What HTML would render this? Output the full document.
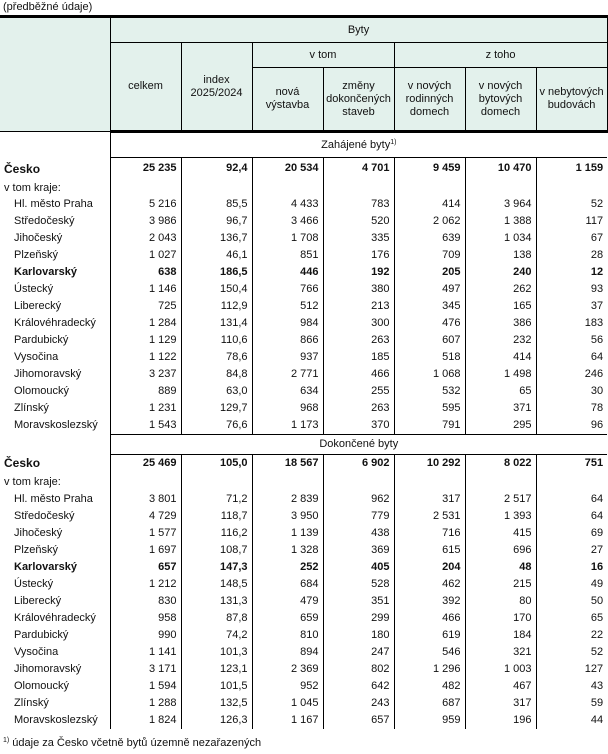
<!DOCTYPE html>
<html><head><meta charset="utf-8">
<style>
body{margin:0;background:#fff;width:608px;height:754px;overflow:hidden;font-family:"Liberation Sans",Arial,sans-serif;font-size:11px;color:#111;position:relative}
.cap{position:absolute;left:3px;top:1px;font-size:11px}
table{position:absolute;left:0;top:15px;border-collapse:collapse;table-layout:fixed;width:607px}
td{padding:0;overflow:hidden;white-space:nowrap;line-height:13px}
.h td{background:#e3f1ec;border:1px solid #000;text-align:center}
.h td.l{border-left:none}
tr.top td{border-top:3px solid #000}
tr.sub td{border-bottom:3px solid #000;white-space:normal}
.sec td.s{border-left:1px solid #000;border-bottom:1px solid #000;text-align:center}
.d td{text-align:right;padding-right:4px;border-left:1px solid #000}
.d td:first-child{text-align:left;border-left:none;padding-left:14px;padding-right:0}
.d td.k{padding-left:4px}
.b td{font-weight:bold}
.c td:first-child{padding-left:4px;font-size:12px}
tr.r td{line-height:17px;height:17px}
sup{font-size:7px;vertical-align:0;position:relative;top:-4px;line-height:0}
.fn{position:absolute;left:3px;top:737px;font-size:11px}
</style></head><body>
<div class="cap">(předběžné údaje)</div>
<table>
<colgroup><col style="width:110px"><col style="width:71px"><col style="width:71px"><col style="width:71px"><col style="width:71px"><col style="width:71px"><col style="width:71px"><col style="width:71px"></colgroup>
<tr class="h top"><td class="l" rowspan="3"></td><td colspan="7" style="line-height:24px">Byty</td></tr>
<tr class="h"><td rowspan="2" style="border-bottom:3px solid #000">celkem</td><td rowspan="2" style="border-bottom:3px solid #000">index<br>2025/2024</td><td colspan="2" style="line-height:24px">v tom</td><td colspan="3" style="line-height:24px">z toho</td></tr>
<tr class="h sub" style="height:64px"><td>nová<br>výstavba</td><td>změny<br>dokončených<br>staveb</td><td>v nových<br>rodinných<br>domech</td><td>v nových<br>bytových<br>domech</td><td>v nebytových<br>budovách</td></tr>
<tr class="sec"><td></td><td class="s" colspan="7" style="line-height:24px">Zahájené byty<sup>1)</sup></td></tr>
<tr class="d b c"><td style="line-height:22px">Česko</td><td>25 235</td><td>92,4</td><td>20 534</td><td>4 701</td><td>9 459</td><td>10 470</td><td>1 159</td></tr>
<tr class="d"><td class="k" style="line-height:16px">v tom kraje:</td><td></td><td></td><td></td><td></td><td></td><td></td><td></td></tr>
<tr class="d r"><td>Hl. město Praha</td><td>5 216</td><td>85,5</td><td>4 433</td><td>783</td><td>414</td><td>3 964</td><td>52</td></tr>
<tr class="d r"><td>Středočeský</td><td>3 986</td><td>96,7</td><td>3 466</td><td>520</td><td>2 062</td><td>1 388</td><td>117</td></tr>
<tr class="d r"><td>Jihočeský</td><td>2 043</td><td>136,7</td><td>1 708</td><td>335</td><td>639</td><td>1 034</td><td>67</td></tr>
<tr class="d r"><td>Plzeňský</td><td>1 027</td><td>46,1</td><td>851</td><td>176</td><td>709</td><td>138</td><td>28</td></tr>
<tr class="d r b"><td>Karlovarský</td><td>638</td><td>186,5</td><td>446</td><td>192</td><td>205</td><td>240</td><td>12</td></tr>
<tr class="d r"><td>Ústecký</td><td>1 146</td><td>150,4</td><td>766</td><td>380</td><td>497</td><td>262</td><td>93</td></tr>
<tr class="d r"><td>Liberecký</td><td>725</td><td>112,9</td><td>512</td><td>213</td><td>345</td><td>165</td><td>37</td></tr>
<tr class="d r"><td>Královéhradecký</td><td>1 284</td><td>131,4</td><td>984</td><td>300</td><td>476</td><td>386</td><td>183</td></tr>
<tr class="d r"><td>Pardubický</td><td>1 129</td><td>110,6</td><td>866</td><td>263</td><td>607</td><td>232</td><td>56</td></tr>
<tr class="d r"><td>Vysočina</td><td>1 122</td><td>78,6</td><td>937</td><td>185</td><td>518</td><td>414</td><td>64</td></tr>
<tr class="d r"><td>Jihomoravský</td><td>3 237</td><td>84,8</td><td>2 771</td><td>466</td><td>1 068</td><td>1 498</td><td>246</td></tr>
<tr class="d r"><td>Olomoucký</td><td>889</td><td>63,0</td><td>634</td><td>255</td><td>532</td><td>65</td><td>30</td></tr>
<tr class="d r"><td>Zlínský</td><td>1 231</td><td>129,7</td><td>968</td><td>263</td><td>595</td><td>371</td><td>78</td></tr>
<tr class="d r"><td>Moravskoslezský</td><td>1 543</td><td>76,6</td><td>1 173</td><td>370</td><td>791</td><td>295</td><td>96</td></tr>
<tr class="sec"><td></td><td class="s" colspan="7" style="border-top:1px solid #000;line-height:19px">Dokončené byty</td></tr>
<tr class="d b c"><td style="line-height:19px">Česko</td><td>25 469</td><td>105,0</td><td>18 567</td><td>6 902</td><td>10 292</td><td>8 022</td><td>751</td></tr>
<tr class="d"><td class="k" style="line-height:18px">v tom kraje:</td><td></td><td></td><td></td><td></td><td></td><td></td><td></td></tr>
<tr class="d r"><td>Hl. město Praha</td><td>3 801</td><td>71,2</td><td>2 839</td><td>962</td><td>317</td><td>2 517</td><td>64</td></tr>
<tr class="d r"><td>Středočeský</td><td>4 729</td><td>118,7</td><td>3 950</td><td>779</td><td>2 531</td><td>1 393</td><td>64</td></tr>
<tr class="d r"><td>Jihočeský</td><td>1 577</td><td>116,2</td><td>1 139</td><td>438</td><td>716</td><td>415</td><td>69</td></tr>
<tr class="d r"><td>Plzeňský</td><td>1 697</td><td>108,7</td><td>1 328</td><td>369</td><td>615</td><td>696</td><td>27</td></tr>
<tr class="d r b"><td>Karlovarský</td><td>657</td><td>147,3</td><td>252</td><td>405</td><td>204</td><td>48</td><td>16</td></tr>
<tr class="d r"><td>Ústecký</td><td>1 212</td><td>148,5</td><td>684</td><td>528</td><td>462</td><td>215</td><td>49</td></tr>
<tr class="d r"><td>Liberecký</td><td>830</td><td>131,3</td><td>479</td><td>351</td><td>392</td><td>80</td><td>50</td></tr>
<tr class="d r"><td>Královéhradecký</td><td>958</td><td>87,8</td><td>659</td><td>299</td><td>466</td><td>170</td><td>65</td></tr>
<tr class="d r"><td>Pardubický</td><td>990</td><td>74,2</td><td>810</td><td>180</td><td>619</td><td>184</td><td>22</td></tr>
<tr class="d r"><td>Vysočina</td><td>1 141</td><td>101,3</td><td>894</td><td>247</td><td>546</td><td>321</td><td>52</td></tr>
<tr class="d r"><td>Jihomoravský</td><td>3 171</td><td>123,1</td><td>2 369</td><td>802</td><td>1 296</td><td>1 003</td><td>127</td></tr>
<tr class="d r"><td>Olomoucký</td><td>1 594</td><td>101,5</td><td>952</td><td>642</td><td>482</td><td>467</td><td>43</td></tr>
<tr class="d r"><td>Zlínský</td><td>1 288</td><td>132,5</td><td>1 045</td><td>243</td><td>687</td><td>317</td><td>59</td></tr>
<tr class="d r"><td>Moravskoslezský</td><td>1 824</td><td>126,3</td><td>1 167</td><td>657</td><td>959</td><td>196</td><td>44</td></tr>
</table>
<div class="fn"><sup>1)</sup> údaje za Česko včetně bytů územně nezařazených</div>
</body></html>
